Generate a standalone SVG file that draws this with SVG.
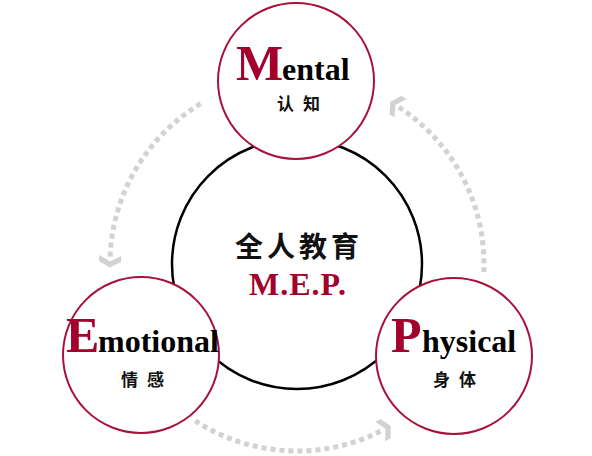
<svg xmlns="http://www.w3.org/2000/svg" width="592" height="456" viewBox="0 0 592 456">
<style>
.ring{fill:#fff;stroke:#a8123a;stroke-width:2}
.core{fill:#fff;stroke:#000;stroke-width:2.5}
.big{font-family:"Liberation Serif",serif;font-weight:bold;font-size:50px;fill:#a3002c}
.rest{font-family:"Liberation Serif",serif;font-weight:bold;font-size:32px;fill:#000}
.cn{font-family:"Noto Sans CJK SC",sans-serif;font-weight:bold;font-size:17px;fill:#111;letter-spacing:9px;text-anchor:middle}
.flow{fill:none;stroke:#d2d2d2;stroke-width:5;stroke-dasharray:5 4;marker-end:url(#chev)}
</style>
<defs>
<marker id="chev" markerUnits="userSpaceOnUse" markerWidth="30" markerHeight="30" refX="0" refY="0" viewBox="-12 -15 30 30" orient="auto" overflow="visible">
<polygon points="-2,-11 4,-11 10,0 4,11 -2,11 4,0" fill="#d2d2d2"/>
</marker>
</defs>
<g id="connectors">
<path class="flow" d="M200.7,103.7 A187,187 0 0 0 110.1,257.5"/>
<path class="flow" d="M195.2,420.8 A187,187 0 0 0 381.9,430.6"/>
<path class="flow" d="M483.8,272.2 A187,187 0 0 0 398.8,107.2"/>
</g>
<g id="core">
<circle class="core" cx="297" cy="264" r="125"/>
<text x="299" y="257" font-family="'Noto Sans CJK SC',sans-serif" font-weight="bold" font-size="28" letter-spacing="4" text-anchor="middle" fill="#111">全人教育</text>
<text x="298" y="295" font-family="'Liberation Serif',serif" font-weight="bold" font-size="32" letter-spacing="1" text-anchor="middle" fill="#a3002c">M.E.P.</text>
</g>
<g id="mental">
<circle class="ring" cx="296" cy="81" r="78"/>
<text y="80"><tspan class="big" x="236" font-size="48">M</tspan><tspan class="rest" x="282">ental</tspan></text>
<text class="cn" x="303" y="110">认知</text>
</g>
<g id="emotional">
<circle class="ring" cx="141" cy="355" r="78"/>
<text y="352"><tspan class="big" x="66" font-size="48">E</tspan><tspan class="rest" x="98">motional</tspan></text>
<text class="cn" x="147" y="386">情感</text>
</g>
<g id="physical">
<circle class="ring" cx="454" cy="356" r="78"/>
<text y="352"><tspan class="big" x="391">P</tspan><tspan class="rest" x="422">hysical</tspan></text>
<text class="cn" x="459" y="386">身体</text>
</g>
</svg>
